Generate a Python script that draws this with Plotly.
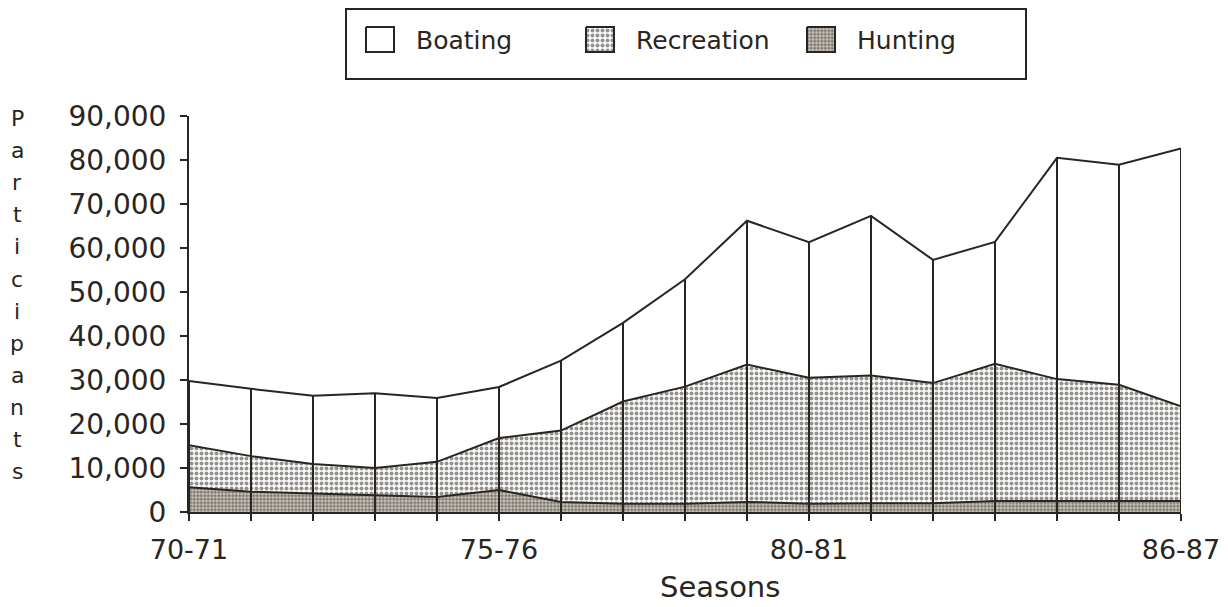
import plotly.graph_objects as go

seasons = ["70-71", "71-72", "72-73", "73-74", "74-75", "75-76", "76-77", "77-78", "78-79",
           "79-80", "80-81", "81-82", "82-83", "83-84", "84-85", "85-86", "86-87"]
total = [29800, 28000, 26400, 27000, 25900, 28400, 34400, 43000, 52900,
         66200, 61300, 67300, 57300, 61400, 80500, 78900, 82600]
rec_top = [15200, 12700, 10900, 10000, 11400, 16800, 18500, 25100, 28500,
           33500, 30500, 31000, 29300, 33700, 30200, 28900, 24000]
hunting = [5600, 4600, 4200, 3800, 3400, 5000, 2300, 1900, 1900,
           2300, 1900, 2000, 2000, 2500, 2500, 2500, 2500]
recreation = [r - h for r, h in zip(rec_top, hunting)]
boating = [t - r for t, r in zip(total, rec_top)]
shown_labels = {"70-71", "75-76", "80-81", "86-87"}
y_ticks = list(range(0, 90001, 10000))
y_title = "Participants"
x_title = "Seasons"
legend_names = ["Boating", "Recreation", "Hunting"]

# page offset of the plot div (default body margin): positions below are page pixels
OFF = 8
W, H = 1228 - OFF, 607 - OFF
INK = "#2a2520"
FONT = "DejaVu Sans"
x = list(range(len(seasons)))

PAT_REC = dict(shape=".", fgcolor=INK, bgcolor="white", size=5, solidity=0.5)
PAT_HUNT = dict(shape=".", fgcolor=INK, bgcolor="#cfcac2", size=3.5, solidity=0.6)

# plot area in page pixels
PL, PR, PT, PB = 189, 1181, 116, 512

fig = go.Figure()
fig.add_trace(go.Scatter(
    x=x, y=hunting, name="Hunting", stackgroup="one", mode="lines",
    line=dict(color=INK, width=2), fillcolor="white", fillpattern=PAT_HUNT, showlegend=False,
))
fig.add_trace(go.Scatter(
    x=x, y=recreation, name="Recreation", stackgroup="one", mode="lines",
    line=dict(color=INK, width=2), fillcolor="white", fillpattern=PAT_REC, showlegend=False,
))
fig.add_trace(go.Scatter(
    x=x, y=boating, name="Boating", stackgroup="one", mode="lines",
    line=dict(color=INK, width=2), fillcolor="white", showlegend=False,
))

# drop lines at each season
dx, dy = [], []
for i, t in enumerate(total):
    dx += [i, i, None]
    dy += [0, t, None]
fig.add_trace(go.Scatter(x=dx, y=dy, mode="lines", line=dict(color=INK, width=2),
                         showlegend=False, hoverinfo="skip"))

# ---- hand-built legend on an overlay axis in figure-pixel units ----
LL, LR, LT, LB = 330, 1045, OFF, 84
legend_swatch_x = [366, 586, 807]
legend_text_x = [414, 634, 855]
sw_w, sw_top, sw_bot = 28, 27, 52
swatch_fill = [None, PAT_REC, PAT_HUNT]
for name, sx, tx, pat in zip(legend_names, legend_swatch_x, legend_text_x, swatch_fill):
    kw = dict(fillpattern=pat) if pat else {}
    fig.add_trace(go.Scatter(
        x=[v - OFF for v in [sx, sx + sw_w, sx + sw_w, sx, sx]],
        y=[v - OFF for v in [sw_top, sw_top, sw_bot, sw_bot, sw_top]],
        xaxis="x2", yaxis="y2", mode="lines", fill="toself", fillcolor="white",
        line=dict(color=INK, width=2), showlegend=False, hoverinfo="skip", **kw))
    fig.add_annotation(x=tx - OFF, y=(sw_top + sw_bot) / 2 + 1 - OFF, xref="x2", yref="y2",
                       text=name, showarrow=False, xanchor="left", yanchor="middle",
                       font=dict(family=FONT, size=25, color=INK))
fig.add_shape(type="rect", xref="x2", yref="y2", x0=346 - OFF, x1=1026 - OFF,
              y0=8 - OFF + 1, y1=79 - OFF,
              line=dict(color=INK, width=2), fillcolor="rgba(0,0,0,0)", layer="below")

# vertical y-axis title, one letter per line
n = len(y_title)
for k, ch in enumerate(y_title):
    yv = 90000 - k * (80000 / (n - 1))
    fig.add_annotation(x=(17 - OFF) / W, xref="paper", y=yv, yref="y", yshift=-3, text=ch,
                       showarrow=False, font=dict(family=FONT, size=22, color=INK),
                       xanchor="center", yanchor="middle")

# x-axis title
fig.add_annotation(x=(720 - OFF) / W, xref="paper", y=1 - (587 - OFF) / H, yref="paper",
                   text=x_title, showarrow=False, xanchor="center", yanchor="middle",
                   font=dict(family=FONT, size=29, color=INK))

fig.update_layout(
    width=W, height=H,
    margin=dict(l=0, r=0, t=0, b=0),
    paper_bgcolor="white", plot_bgcolor="white",
    font=dict(family=FONT, color=INK),
    showlegend=False,
    xaxis=dict(domain=[(PL - OFF) / W, (PR - OFF) / W], anchor="y", automargin=False,
               range=[0, len(seasons) - 1],
               tickvals=x, ticktext=[s if s in shown_labels else "" for s in seasons],
               ticks="outside", ticklen=7, tickwidth=2, tickcolor=INK,
               showline=True, linecolor=INK, linewidth=2, showgrid=False, zeroline=False,
               tickfont=dict(family=FONT, size=27, color=INK), ticklabelstandoff=6),
    yaxis=dict(domain=[1 - (PB - OFF) / H, 1 - (PT - OFF) / H], anchor="x", automargin=False,
               range=[0, 90000], tickvals=y_ticks, tickformat=",d",
               ticks="outside", ticklen=7, tickwidth=2, tickcolor=INK,
               showline=True, linecolor=INK, linewidth=2, showgrid=False, zeroline=False,
               tickfont=dict(family=FONT, size=28, color=INK), ticklabelstandoff=8),
    xaxis2=dict(domain=[(LL - OFF) / W, (LR - OFF) / W], anchor="y2",
                range=[LL - OFF, LR - OFF], visible=False, fixedrange=True),
    yaxis2=dict(domain=[1 - (LB - OFF) / H, 1 - (LT - OFF) / H], anchor="x2",
                range=[LB - OFF, LT - OFF], visible=False, fixedrange=True),
)

fig.write_html("out.html")
